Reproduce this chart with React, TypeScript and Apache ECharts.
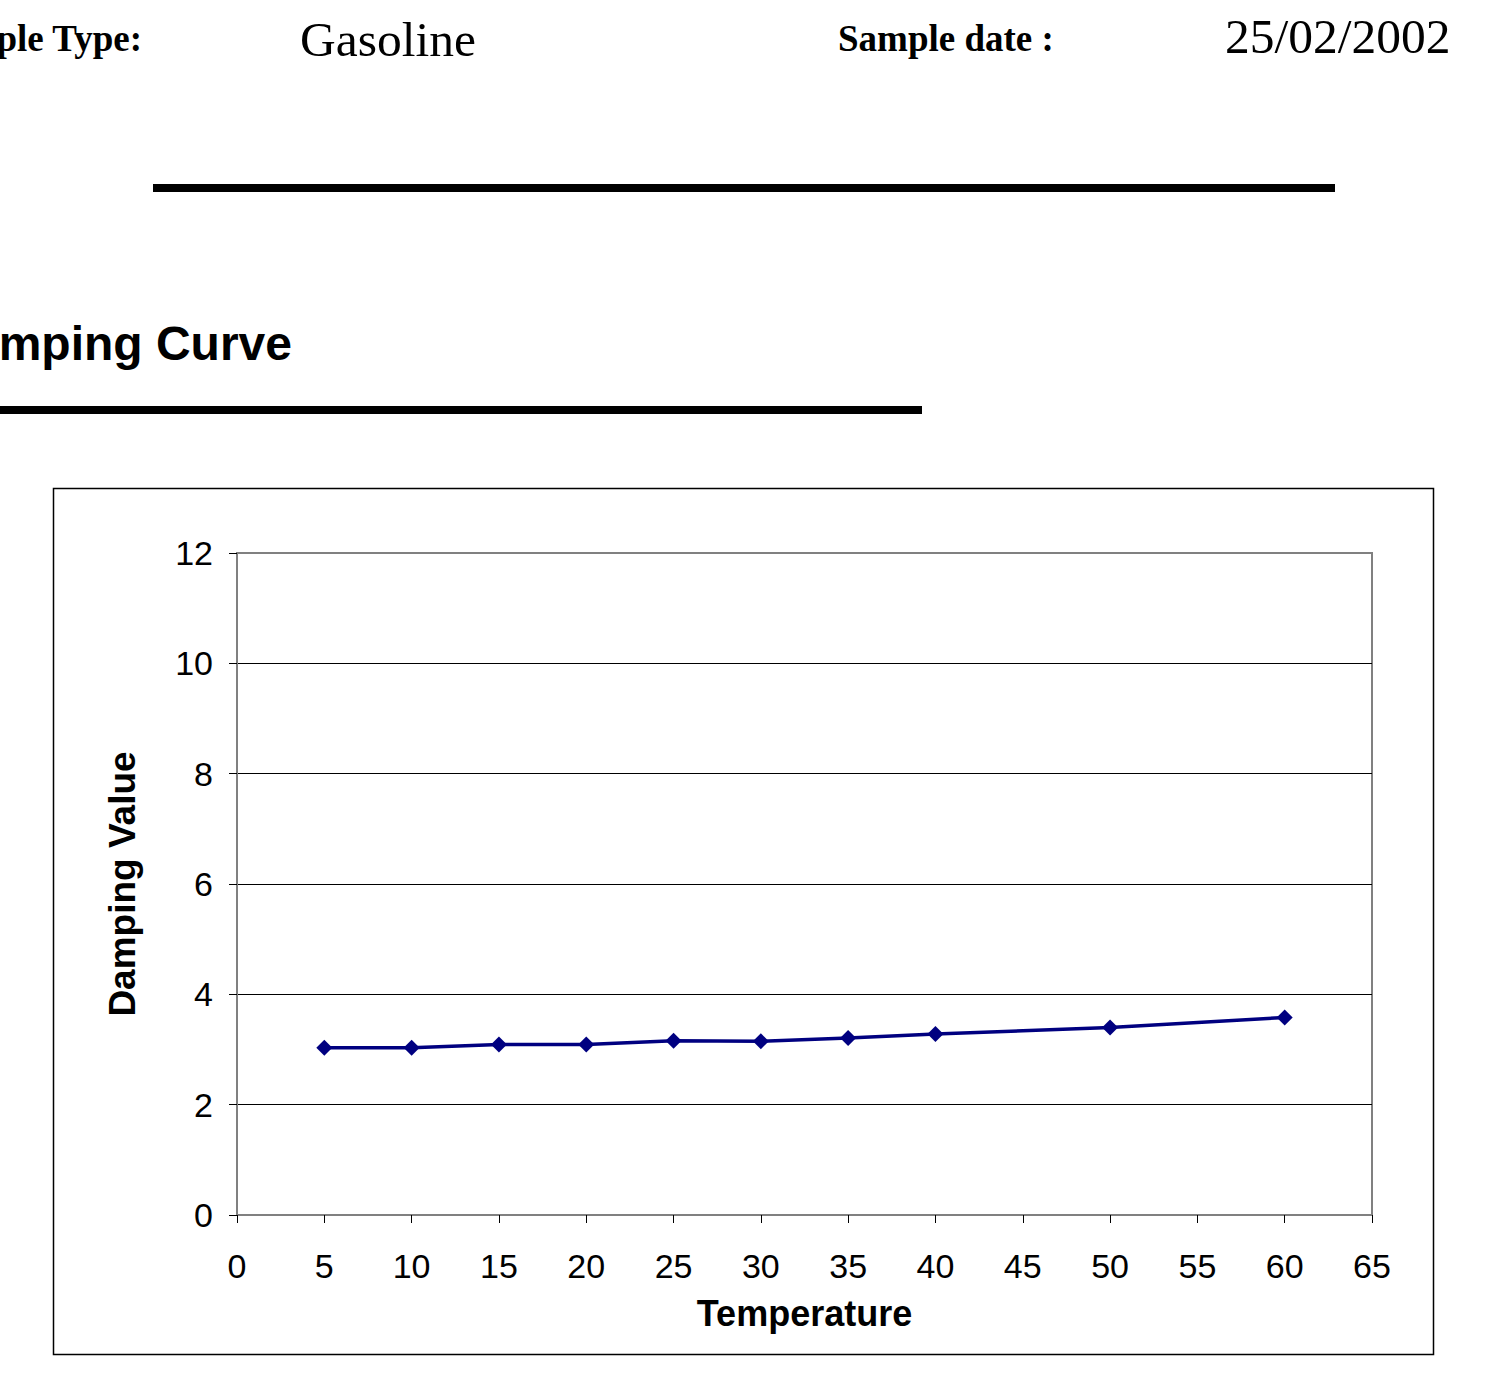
import React, { useEffect, useRef } from "react";
import * as echarts from "echarts";

const temperatures = [5, 10, 15, 20, 25, 30, 35, 40, 50, 60];
const dampingValues = [3.03, 3.03, 3.09, 3.09, 3.16, 3.15, 3.21, 3.28, 3.4, 3.58];
const seriesData = temperatures.map((t, i) => [t, dampingValues[i]]);

const sampleTypeLabel = "Sample Type:";
const sampleTypeValue = "Gasoline";
const sampleDateLabel = "Sample date :";
const sampleDateValue = "25/02/2002";
const sectionTitle = "Damping Curve";
const xAxisTitle = "Temperature";
const yAxisTitle = "Damping Value";

const SERIF = "'Liberation Serif', 'Times New Roman', serif";
const SANS = "'Liberation Sans', Arial, sans-serif";

export default function App() {
  const ref = useRef<HTMLDivElement>(null);
  useEffect(() => {
    if (!ref.current) return;
    const chart = echarts.init(ref.current, undefined, { renderer: "svg" });
    chart.setOption({
      animation: false,
      backgroundColor: "#ffffff",
      graphic: [
        { type: "text", x: 142, y: 38, style: { text: sampleTypeLabel, font: `bold 37px ${SERIF}`, fill: "#000", align: "right", verticalAlign: "middle" } },
        { type: "text", x: 300, y: 39, style: { text: sampleTypeValue, font: `49.5px ${SERIF}`, fill: "#000", align: "left", verticalAlign: "middle" } },
        { type: "text", x: 838, y: 38, style: { text: sampleDateLabel, font: `bold 37px ${SERIF}`, fill: "#000", align: "left", verticalAlign: "middle" } },
        { type: "text", x: 1225, y: 36, style: { text: sampleDateValue, font: `49.5px ${SERIF}`, fill: "#000", align: "left", verticalAlign: "middle" } },
        { type: "line", shape: { x1: 153, y1: 188, x2: 1335, y2: 188 }, style: { stroke: "#000", lineWidth: 8 } },
        { type: "text", x: 292, y: 343, style: { text: sectionTitle, font: `bold 48px ${SANS}`, fill: "#000", align: "right", verticalAlign: "middle" } },
        { type: "line", shape: { x1: 0, y1: 410, x2: 922, y2: 410 }, style: { stroke: "#000", lineWidth: 8 } },
        { type: "rect", shape: { x: 53.5, y: 488.5, width: 1380, height: 866 }, style: { fill: "none", stroke: "#000", lineWidth: 1.5 }, z: -1 },
      ],
      grid: {
        left: 237,
        top: 553,
        right: 118,
        bottom: 160,
        show: true,
        borderColor: "#808080",
        borderWidth: 2,
        backgroundColor: "transparent",
      },
      xAxis: {
        type: "value",
        min: 0,
        max: 65,
        interval: 5,
        name: xAxisTitle,
        nameLocation: "middle",
        nameGap: 80,
        nameTextStyle: { fontFamily: SANS, fontWeight: "bold", fontSize: 36, color: "#000" },
        axisLine: { show: true, lineStyle: { color: "#808080", width: 2 } },
        axisTick: { show: true, inside: false, length: 8, lineStyle: { color: "#000", width: 1 } },
        axisLabel: { fontFamily: SANS, fontSize: 34, color: "#000", margin: 34 },
        splitLine: { show: false },
      },
      yAxis: {
        type: "value",
        min: 0,
        max: 12,
        interval: 2,
        name: yAxisTitle,
        nameLocation: "middle",
        nameGap: 96,
        nameRotate: 90,
        nameTextStyle: { fontFamily: SANS, fontWeight: "bold", fontSize: 37, color: "#000" },
        axisLine: { show: true, lineStyle: { color: "#808080", width: 2 } },
        axisTick: { show: true, inside: false, length: 8, lineStyle: { color: "#000", width: 1 } },
        axisLabel: { fontFamily: SANS, fontSize: 34, color: "#000", margin: 24 },
        splitLine: { show: true, showMinLine: false, showMaxLine: false, lineStyle: { color: "#000", width: 1 } },
      },
      series: [
        {
          type: "line",
          data: seriesData,
          symbol: "diamond",
          symbolSize: 16,
          itemStyle: { color: "#000080" },
          lineStyle: { color: "#000080", width: 3.5 },
        },
      ],
    });
    return () => chart.dispose();
  }, []);
  return <div ref={ref} style={{ position: "absolute", left: 0, top: 0, width: 1490, height: 1375 }} />;
}
